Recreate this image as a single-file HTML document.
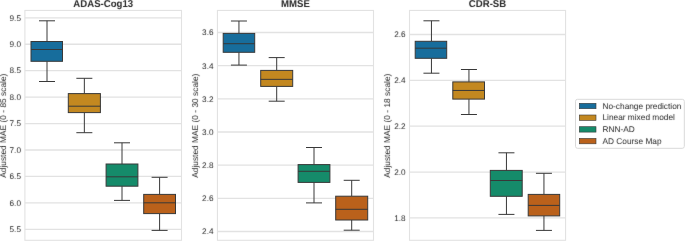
<!DOCTYPE html>
<html><head><meta charset="utf-8"><title>Adjusted MAE boxplots</title><style>html,body{margin:0;padding:0;background:#fff;overflow:hidden}#w{width:685px;height:241px;overflow:hidden}svg{display:block;will-change:transform}text{font-family:"Liberation Sans", sans-serif;text-rendering:geometricPrecision}</style></head><body><div id="w">
<svg width="685" height="241" viewBox="0 0 685 241">
<defs><filter id="tb" filterUnits="userSpaceOnUse" x="0" y="0" width="685" height="241" color-interpolation-filters="sRGB"><feConvolveMatrix order="3" kernelMatrix="0.0052 0.0619 0.0052 0.0619 0.7314 0.0619 0.0052 0.0619 0.0052" edgeMode="none" preserveAlpha="false"/></filter></defs>
<rect width="685" height="241" fill="#fff"/>
<g>
<g stroke="#e2e2e2" stroke-width="1.3" fill="none"><line x1="24.90" y1="17.80" x2="181.50" y2="17.80"/><line x1="24.90" y1="44.24" x2="181.50" y2="44.24"/><line x1="24.90" y1="70.68" x2="181.50" y2="70.68"/><line x1="24.90" y1="97.12" x2="181.50" y2="97.12"/><line x1="24.90" y1="123.56" x2="181.50" y2="123.56"/><line x1="24.90" y1="150.00" x2="181.50" y2="150.00"/><line x1="24.90" y1="176.44" x2="181.50" y2="176.44"/><line x1="24.90" y1="202.88" x2="181.50" y2="202.88"/><line x1="24.90" y1="229.32" x2="181.50" y2="229.32"/><rect x="24.90" y="10.45" width="156.60" height="229.85" fill="none" stroke-width="1.1"/><line x1="217.45" y1="32.50" x2="373.50" y2="32.50"/><line x1="217.45" y1="65.67" x2="373.50" y2="65.67"/><line x1="217.45" y1="98.84" x2="373.50" y2="98.84"/><line x1="217.45" y1="132.01" x2="373.50" y2="132.01"/><line x1="217.45" y1="165.18" x2="373.50" y2="165.18"/><line x1="217.45" y1="198.35" x2="373.50" y2="198.35"/><line x1="217.45" y1="231.52" x2="373.50" y2="231.52"/><rect x="217.45" y="10.45" width="156.05" height="229.85" fill="none" stroke-width="1.1"/><line x1="409.50" y1="34.50" x2="565.55" y2="34.50"/><line x1="409.50" y1="80.35" x2="565.55" y2="80.35"/><line x1="409.50" y1="126.20" x2="565.55" y2="126.20"/><line x1="409.50" y1="172.05" x2="565.55" y2="172.05"/><line x1="409.50" y1="217.90" x2="565.55" y2="217.90"/><rect x="409.50" y="10.45" width="156.05" height="229.85" fill="none" stroke-width="1.1"/></g>
<g stroke="#383838" stroke-width="1" fill="none"><path d="M47.00 20.80V41.50M47.00 61.30V81.50M39.00 20.80H55.00M39.00 81.50H55.00"/>
<rect x="31.00" y="41.50" width="31.50" height="19.80" fill="#176d9c"/>
<path d="M31.00 49.50H62.50"/>
<path d="M84.35 78.30V93.60M84.35 112.60V132.70M76.35 78.30H92.35M76.35 132.70H92.35"/>
<rect x="68.30" y="93.60" width="32.10" height="19.00" fill="#c38820"/>
<path d="M68.30 106.20H100.40"/>
<path d="M122.00 142.80V164.00M122.00 186.20V200.40M114.00 142.80H130.00M114.00 200.40H130.00"/>
<rect x="106.10" y="164.00" width="31.80" height="22.20" fill="#158b6a"/>
<path d="M106.10 176.80H137.90"/>
<path d="M159.60 177.30V194.40M159.60 213.60V230.40M151.60 177.30H167.60M151.60 230.40H167.60"/>
<rect x="143.70" y="194.40" width="31.80" height="19.20" fill="#ba611b"/>
<path d="M143.70 202.80H175.50"/>
<path d="M238.95 21.00V33.40M238.95 52.30V65.10M230.95 21.00H246.95M230.95 65.10H246.95"/>
<rect x="223.20" y="33.40" width="31.50" height="18.90" fill="#176d9c"/>
<path d="M223.20 43.70H254.70"/>
<path d="M276.70 57.60V70.40M276.70 86.40V101.20M268.70 57.60H284.70M268.70 101.20H284.70"/>
<rect x="260.70" y="70.40" width="32.00" height="16.00" fill="#c38820"/>
<path d="M260.70 79.35H292.70"/>
<path d="M314.00 147.50V164.60M314.00 182.40V202.90M306.00 147.50H322.00M306.00 202.90H322.00"/>
<rect x="298.10" y="164.60" width="31.80" height="17.80" fill="#158b6a"/>
<path d="M298.10 171.30H329.90"/>
<path d="M351.70 180.30V196.20M351.70 220.00V230.20M343.70 180.30H359.70M343.70 230.20H359.70"/>
<rect x="335.70" y="196.20" width="32.00" height="23.80" fill="#ba611b"/>
<path d="M335.70 209.30H367.70"/>
<path d="M431.45 20.80V41.30M431.45 58.30V73.20M423.45 20.80H439.45M423.45 73.20H439.45"/>
<rect x="415.20" y="41.30" width="31.50" height="17.00" fill="#176d9c"/>
<path d="M415.20 48.20H446.70"/>
<path d="M468.95 69.50V81.90M468.95 99.10V114.50M460.95 69.50H476.95M460.95 114.50H476.95"/>
<rect x="452.80" y="81.90" width="31.70" height="17.20" fill="#c38820"/>
<path d="M452.80 90.45H484.50"/>
<path d="M506.45 152.80V170.40M506.45 196.30V214.40M498.45 152.80H514.45M498.45 214.40H514.45"/>
<rect x="490.30" y="170.40" width="31.90" height="25.90" fill="#158b6a"/>
<path d="M490.30 180.50H522.20"/>
<path d="M543.95 173.30V194.40M543.95 215.90V230.40M535.95 173.30H551.95M535.95 230.40H551.95"/>
<rect x="528.20" y="194.40" width="31.50" height="21.50" fill="#ba611b"/>
<path d="M528.20 205.40H559.70"/></g>
<rect x="575.5" y="99.3" width="108.8" height="49.0" rx="2" fill="#fff" fill-opacity="0.8" stroke="#d9d9d9" stroke-width="1"/><rect x="579.3" y="103.30" width="16.7" height="5.4" fill="#176d9c" stroke="#383838" stroke-width="0.6"/><rect x="579.3" y="115.00" width="16.7" height="5.4" fill="#c38820" stroke="#383838" stroke-width="0.6"/><rect x="579.3" y="126.70" width="16.7" height="5.4" fill="#158b6a" stroke="#383838" stroke-width="0.6"/><rect x="579.3" y="138.40" width="16.7" height="5.4" fill="#ba611b" stroke="#383838" stroke-width="0.6"/>
</g>
<g fill="#262626" filter="url(#tb)"><text x="20.95" y="20.60" font-size="8.2" text-anchor="end">9.5</text>
<text x="20.95" y="47.04" font-size="8.2" text-anchor="end">9.0</text>
<text x="20.95" y="73.48" font-size="8.2" text-anchor="end">8.5</text>
<text x="20.95" y="99.92" font-size="8.2" text-anchor="end">8.0</text>
<text x="20.95" y="126.36" font-size="8.2" text-anchor="end">7.5</text>
<text x="20.95" y="152.80" font-size="8.2" text-anchor="end">7.0</text>
<text x="20.95" y="179.24" font-size="8.2" text-anchor="end">6.5</text>
<text x="20.95" y="205.68" font-size="8.2" text-anchor="end">6.0</text>
<text x="20.95" y="232.12" font-size="8.2" text-anchor="end">5.5</text>
<text transform="translate(103.20,6.8) scale(0.96,1)" font-size="10" font-weight="bold" text-anchor="middle">ADAS-Cog13</text>
<text transform="translate(5.60,125.72) rotate(-90)" font-size="8.4" text-anchor="middle">Adjusted MAE (0 - 85 scale)</text>
<text x="213.50" y="35.30" font-size="8.2" text-anchor="end">3.6</text>
<text x="213.50" y="69.07" font-size="8.2" text-anchor="end">3.4</text>
<text x="213.50" y="101.64" font-size="8.2" text-anchor="end">3.2</text>
<text x="213.50" y="134.81" font-size="8.2" text-anchor="end">3.0</text>
<text x="213.50" y="167.98" font-size="8.2" text-anchor="end">2.8</text>
<text x="213.50" y="201.15" font-size="8.2" text-anchor="end">2.6</text>
<text x="213.50" y="234.32" font-size="8.2" text-anchor="end">2.4</text>
<text transform="translate(295.48,6.8) scale(0.96,1)" font-size="10" font-weight="bold" text-anchor="middle">MMSE</text>
<text transform="translate(198.15,125.72) rotate(-90)" font-size="8.4" text-anchor="middle">Adjusted MAE (0 - 30 scale)</text>
<text x="405.55" y="37.30" font-size="8.2" text-anchor="end">2.6</text>
<text x="405.55" y="83.15" font-size="8.2" text-anchor="end">2.4</text>
<text x="405.55" y="129.00" font-size="8.2" text-anchor="end">2.2</text>
<text x="405.55" y="174.85" font-size="8.2" text-anchor="end">2.0</text>
<text x="405.55" y="220.70" font-size="8.2" text-anchor="end">1.8</text>
<text transform="translate(487.52,6.8) scale(0.96,1)" font-size="10" font-weight="bold" text-anchor="middle">CDR-SB</text>
<text transform="translate(390.20,125.72) rotate(-90)" font-size="8.4" text-anchor="middle">Adjusted MAE (0 - 18 scale)</text>
<text x="602.5" y="108.65" font-size="8.3">No-change prediction</text>
<text x="602.5" y="120.35" font-size="8.3">Linear mixed model</text>
<text x="602.5" y="132.05" font-size="8.3">RNN-AD</text>
<text x="602.5" y="143.75" font-size="8.3">AD Course Map</text></g>
</svg></div></body></html>
